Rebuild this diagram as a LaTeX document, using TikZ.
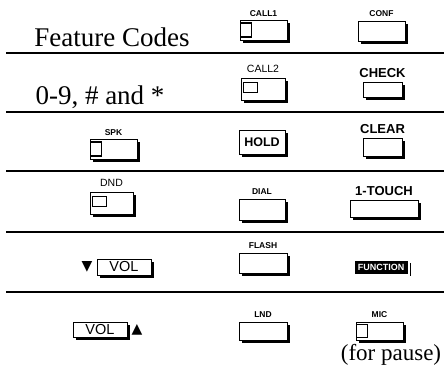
\documentclass[tikz,border=0pt]{standalone}
\usepackage{fontspec}
\setmainfont{Liberation Serif}
\setsansfont{Liberation Sans}
\newfontfamily\symfont{DejaVu Sans}
\usetikzlibrary{positioning,shadows}

\begin{document}
\begin{tikzpicture}[x=1pt, y=-1pt,
  key/.style={draw, line width=0.9pt, fill=white, inner sep=0pt, font=\sffamily,
              drop shadow={shadow xshift=3.2pt, shadow yshift=-3.2pt, opacity=1, fill=black}},
  lamp/.style={draw, line width=1.4pt, fill=white, inner sep=0pt,
               minimum width=11pt, minimum height=14pt, anchor=west},
  slamp/.style={draw, line width=0.6pt, inner sep=0pt,
                minimum width=14pt, minimum height=10pt, anchor=west},
  tag/.style={font=\sffamily\bfseries\fontsize{8.5}{9}\selectfont, inner sep=0pt},
  bigtag/.style={font=\sffamily\bfseries\fontsize{13}{14}\selectfont, inner sep=0pt},
  plaintag/.style={font=\sffamily\fontsize{10.5}{11}\selectfont, inner sep=0pt},
  lbl/.style={font=\fontsize{27}{30}\selectfont, inner sep=0pt},
  rule/.style={line width=2.5pt},
]
\useasboundingbox (0,0) rectangle (444,367);
% row separators
\foreach \y in {53,112,171,232,292}
  \draw[rule] (6,\y) -- (444,\y);
% row 1
\node[lbl] (feat) at (112,37) {Feature Codes};
\node[key, minimum width=47pt, minimum height=20pt] (call1) at (263.5,30) {};
\node[lamp] (call1lamp) at (call1.west) {};
\node[tag, above=3pt of call1] (call1tag) {CALL1};
\node[key, minimum width=47pt, minimum height=20pt] (conf) at (381.5,31) {};
\node[tag, above=4pt of conf] (conftag) {CONF};
% row 2
\node[lbl] (digits) at (100,97) {0-9, \# and *};
\node[key, minimum width=44pt, minimum height=22pt] (call2) at (263,89) {};
\node[slamp] (call2lamp) at ([xshift=2pt,yshift=1.5pt]call2.west) {};
\node[plaintag, above=5pt of call2] (call2tag) {CALL2};
\node[key, minimum width=39pt, minimum height=15pt] (check) at (382.5,89.5) {};
\node[bigtag, above=4pt of check] (checktag) {CHECK};
% row 3
\node[key, minimum width=47pt, minimum height=20pt] (spk) at (113.5,149) {};
\node[lamp] (spklamp) at (spk.west) {};
\node[tag, above=3pt of spk] (spktag) {SPK};
\node[key, minimum width=46pt, minimum height=24pt,
      font=\sffamily\bfseries\fontsize{12.5}{13}\selectfont] (hold) at (262,142) {HOLD};
\node[key, minimum width=39pt, minimum height=18pt] (clear) at (382.5,147) {};
\node[bigtag, above=4pt of clear] (cleartag) {CLEAR};
% row 4
\node[key, minimum width=43pt, minimum height=22pt] (dnd) at (111.5,203) {};
\node[slamp] (dndlamp) at ([xshift=2pt,yshift=1.5pt]dnd.west) {};
\node[plaintag, above=5pt of dnd] (dndtag) {DND};
\node[key, minimum width=46pt, minimum height=21pt] (dial) at (262,209.5) {};
\node[tag, above=4pt of dial] (dialtag) {DIAL};
\node[key, minimum width=68pt, minimum height=17pt] (touch) at (384,208.5) {};
\node[bigtag, above=4pt of touch] (touchtag) {1-TOUCH};
% row 5
\node[key, minimum width=54pt, minimum height=16pt,
      font=\sffamily\fontsize{14.5}{14}\selectfont] (voldn) at (124,267) {VOL};
\node[font=\symfont\fontsize{14}{14}\selectfont, inner sep=0pt, left=4pt of voldn] (down) {▼};
\node[key, minimum width=48pt, minimum height=20pt] (flash) at (263,263) {};
\node[tag, above=4pt of flash] (flashtag) {FLASH};
\node[draw, fill=black, text=white, inner sep=0pt, minimum width=52pt, minimum height=12pt,
      font=\sffamily\bfseries\fontsize{9}{9}\selectfont] (func) at (381,267) {FUNCTION};
\draw[line width=1.2pt] ([xshift=3pt,yshift=-2pt]func.north east) -- ([xshift=3pt,yshift=-3pt]func.south east);
% row 6
\node[key, minimum width=54pt, minimum height=15pt,
      font=\sffamily\fontsize{14.5}{14}\selectfont] (volup) at (100,329.5) {VOL};
\node[font=\symfont\fontsize{14}{14}\selectfont, inner sep=0pt, right=4pt of volup] (up) {▲};
\node[key, minimum width=48pt, minimum height=18pt] (lnd) at (263,331) {};
\node[tag, above=4pt of lnd] (lndtag) {LND};
\node[key, minimum width=47pt, minimum height=18pt] (mic) at (379.5,331) {};
\node[lamp, minimum height=13pt] (miclamp) at (mic.west) {};
\node[tag, above=4pt of mic] (mictag) {MIC};
\node[font=\fontsize{23}{25}\selectfont, inner sep=0pt] (pause) at (391,355) {(for pause)};
\end{tikzpicture}
\end{document}
